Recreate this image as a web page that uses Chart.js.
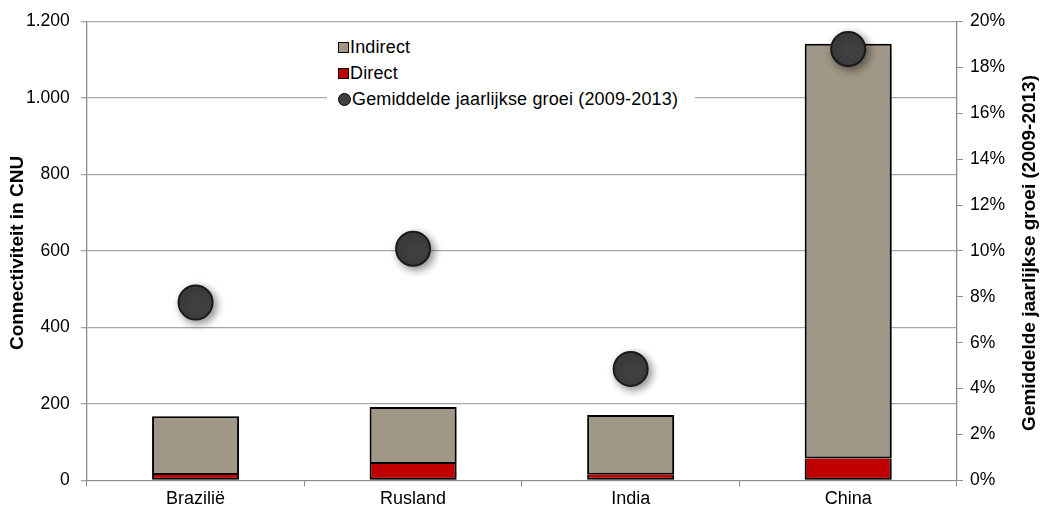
<!DOCTYPE html>
<html>
<head>
<meta charset="utf-8">
<script src="https://cdn.jsdelivr.net/npm/chart.js@4/dist/chart.umd.min.js"></script>
<style>
  html, body { margin: 0; padding: 0; background: #fff; }
  #wrap { position: relative; width: 1041px; height: 509px; }
  #legend {
    position: absolute; left: 327px; top: 35px; width: 368px; height: 82px;
    background: #fff; font-family: "Liberation Sans", Arial, sans-serif; font-size: 18px; letter-spacing: 0.15px; color: #000;
  }
  .lg-row { position: absolute; left: 11px; height: 20px; line-height: 20px; white-space: nowrap; }
  .lg-box { display: inline-block; width: 9px; height: 9px; border: 1px solid #000; margin-right: 1px; vertical-align: 0px; }
  .lg-dot { display: inline-block; width: 11px; height: 11px; border-radius: 50%; background: #404040; border: 1px solid #000; margin-right: 1px; vertical-align: -1px; }
</style>
</head>
<body>
<div id="wrap">
  <canvas id="chart" width="1041" height="509"></canvas>
  <div id="legend">
    <div class="lg-row" style="top:2px"><span class="lg-box" style="background:#a09786"></span>Indirect</div>
    <div class="lg-row" style="top:28px"><span class="lg-box" style="background:#c00000"></span>Direct</div>
    <div class="lg-row" style="top:54px"><span class="lg-dot"></span>Gemiddelde jaarlijkse groei (2009-2013)</div>
  </div>
</div>
<script>
// ── Data ──
var categories = ['Brazilië', 'Rusland', 'India', 'China'];
var directValues = [14, 43, 15, 57];
var indirectValues = [154, 149, 156, 1085];
var growthValues = [0.0775, 0.101, 0.0486, 0.188];
var leftTicks = [0, 200, 400, 600, 800, 1000, 1200];
var leftTitle = 'Connectiviteit in CNU';
var rightTitle = 'Gemiddelde jaarlijkse groei (2009-2013)';

var font = '"Liberation Sans", Arial, sans-serif';
var axisGray = '#8c8c8c';

// ── shadows for bars and points ──
var shadowPlugin = {
    id: 'shadow',
    beforeDatasetDraw: function(chart) {
        var c = chart.ctx;
        c.save();
        c.shadowColor = 'rgba(0,0,0,0.45)';
        c.shadowBlur = 9;
        c.shadowOffsetX = 3;
        c.shadowOffsetY = 3;
    },
    afterDatasetDraw: function(chart) { chart.ctx.restore(); }
};

// ── axis titles, both read bottom-to-top ──
var titlePlugin = {
    id: 'titles',
    afterDraw: function(chart) {
        var c = chart.ctx, a = chart.chartArea;
        var mid = (a.top + a.bottom) / 2 + 2;
        c.save();
        c.font = 'bold 19px ' + font;
        c.fillStyle = '#000';
        c.textAlign = 'center';
        c.textBaseline = 'middle';
        [[18, leftTitle], [1030, rightTitle]].forEach(function(t) {
            c.save();
            c.translate(t[0], mid);
            c.rotate(-Math.PI / 2);
            c.fillText(t[1], 0, 0);
            c.restore();
        });
        c.restore();
    }
};

new Chart(document.getElementById('chart').getContext('2d'), {
    type: 'bar',
    data: {
        labels: categories,
        datasets: [
            { label: rightTitle, type: 'line', data: growthValues, yAxisID: 'y1', showLine: false, order: 0,
              pointRadius: 17, pointBackgroundColor: '#404040', pointBorderColor: '#1a1a1a', pointBorderWidth: 2 },
            { label: 'Direct', data: directValues, backgroundColor: '#c00000', borderColor: '#000', borderWidth: 2, borderSkipped: 'top', order: 1 },
            { label: 'Indirect', data: indirectValues, backgroundColor: '#a09786', borderColor: '#000', borderWidth: 2, borderSkipped: false, order: 1 }
        ]
    },
    options: {
        responsive: false, animation: false,
        layout: { padding: { left: 15, right: 29, top: 19, bottom: -3 } },
        barPercentage: 0.4, categoryPercentage: 1.0,
        plugins: { legend: { display: false }, tooltip: { enabled: false } },
        scales: {
            x: {
                stacked: true,
                grid: { offset: true, drawOnChartArea: false, drawTicks: true, tickLength: 6, color: axisGray },
                border: { color: axisGray, width: 1 },
                ticks: { color: '#000', font: { family: font, size: 18 }, padding: 2 }
            },
            y: {
                stacked: true, min: 0, max: 1200,
                afterBuildTicks: function(axis) { axis.ticks = leftTicks.map(function(v) { return { value: v }; }); },
                grid: { color: '#a6a6a6', tickLength: 6, lineWidth: 1.3 },
                border: { color: axisGray, width: 1.3 },
                ticks: { color: '#000', font: { family: font, size: 17.5 }, padding: 11,
                    callback: function(v) { return v.toLocaleString('nl-NL'); } }
            },
            y1: {
                position: 'right', min: 0, max: 0.2,
                grid: { drawOnChartArea: false, tickLength: 6, color: axisGray },
                border: { color: axisGray, width: 1.3 },
                ticks: { stepSize: 0.02, color: '#000', font: { family: font, size: 17.5 }, padding: 7,
                    callback: function(v) { return Math.round(v * 100) + '%'; } }
            }
        }
    },
    plugins: [shadowPlugin, titlePlugin]
});
</script>
</body>
</html>
